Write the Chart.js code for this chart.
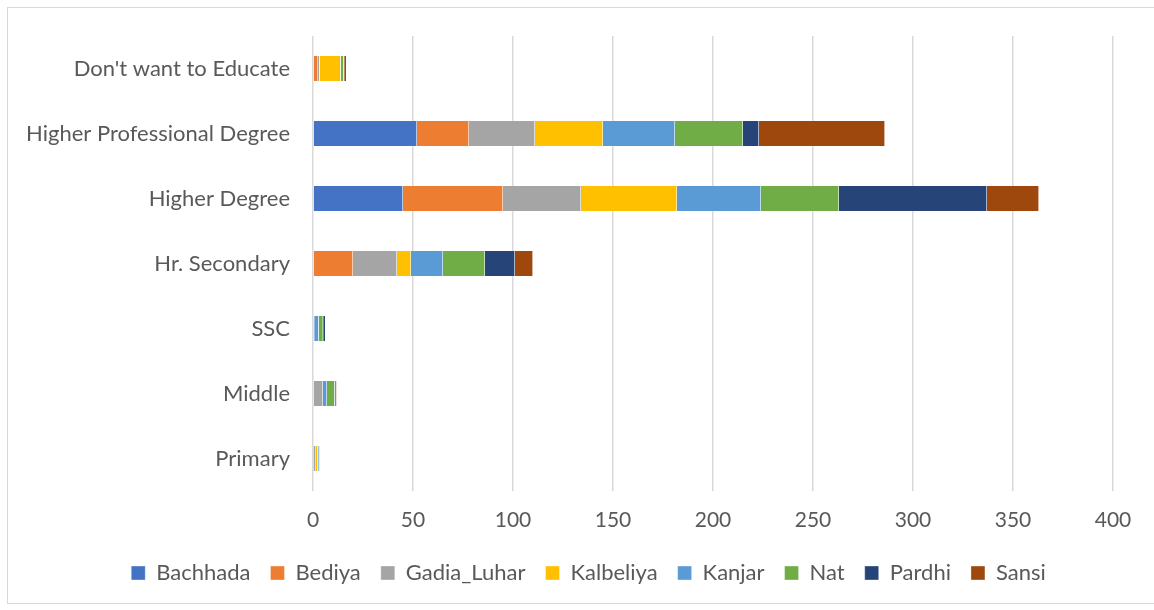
<!DOCTYPE html>
<html><head><meta charset="utf-8">
<script src="https://cdn.jsdelivr.net/npm/chart.js@4"></script>
<style>html,body{margin:0;padding:0;background:#fff}#wrap{width:1154px;height:610px;position:relative}</style>
</head><body><div id="wrap"><canvas id="c" width="1154" height="610"></canvas></div>
<script>
const categories = ["Don't want to Educate","Higher Professional Degree","Higher Degree","Hr. Secondary","SSC","Middle","Primary"];
const bachhada   = [0, 52, 45, 0, 0, 0.5, 0];
const bediya     = [2.5, 26, 50, 20, 0.3, 0, 0.3];
const gadiaLuhar = [0.8, 33, 39, 22, 0, 4.5, 1.2];
const kalbeliya  = [10.5, 34, 48, 7, 0.3, 0, 0.8];
const kanjar     = [0, 36, 42, 16, 2.3, 2, 0.8];
const nat        = [1.5, 34, 39, 21, 2.2, 3.8, 0.3];
const pardhi     = [0.3, 8, 74, 15, 1.2, 0.8, 0];
const sansi      = [1.2, 63, 26, 9, 0, 0.3, 0];
const xTicks = [0,50,100,150,200,250,300,350,400];

const series = [
  ["Bachhada", bachhada, "#4472C4"],
  ["Bediya", bediya, "#ED7D31"],
  ["Gadia_Luhar", gadiaLuhar, "#A5A5A5"],
  ["Kalbeliya", kalbeliya, "#FFC000"],
  ["Kanjar", kanjar, "#5B9BD5"],
  ["Nat", nat, "#70AD47"],
  ["Pardhi", pardhi, "#264478"],
  ["Sansi", sansi, "#9E480E"]
];

const borderPlugin = {
  id: 'outerBorder',
  beforeDraw(chart) {
    const ctx = chart.ctx;
    ctx.save();
    ctx.fillStyle = '#fff';
    ctx.fillRect(0,0,chart.width,chart.height);
    ctx.strokeStyle = '#d9d9d9';
    ctx.lineWidth = 1;
    ctx.strokeRect(7.5, 7.5, 1160, 596);
    ctx.restore();
  },
  afterLayout(chart) {
    if (chart.legend) { chart.legend.left += 27; chart.legend.right += 27; }
  }
};

const FONT = "Lato, 'Open Sans', sans-serif";
new Chart(document.getElementById('c'), {
  type: 'bar',
  data: {
    labels: categories,
    datasets: series.map(([name, data, color]) => ({
      label: name, data, backgroundColor: color,
      borderColor: 'rgba(255,255,255,0.6)', borderWidth: 0.6,
      barPercentage: 0.4, categoryPercentage: 1.0
    }))
  },
  options: {
    indexAxis: 'y',
    responsive: false,
    animation: false,
    layout: { padding: { left: 10, right: 41, top: 36, bottom: 16 } },
    plugins: {
      legend: {
        position: 'bottom',
        labels: {
          font: { family: FONT, size: 22 }, color: '#595959',
          boxWidth: 14, boxHeight: 14, padding: 20
        }
      },
      tooltip: { enabled: false }
    },
    scales: {
      x: {
        stacked: true, min: 0, max: 400,
        afterBuildTicks(s) { s.ticks = xTicks.map(v => ({ value: v })); },
        afterFit(s) { s.height = 51; },
        ticks: { font: { family: FONT, size: 21 }, color: '#595959', padding: 17 },
        grid: { color: '#d9d9d9', lineWidth: 1.5, drawTicks: false },
        border: { display: false }
      },
      y: {
        stacked: true,
        afterFit(s) { s.width = 303; },
        ticks: { font: { family: FONT, size: 22 }, color: '#595959', padding: 15 },
        grid: { display: false },
        border: { display: false }
      }
    }
  },
  plugins: [borderPlugin]
});
</script></body></html>
